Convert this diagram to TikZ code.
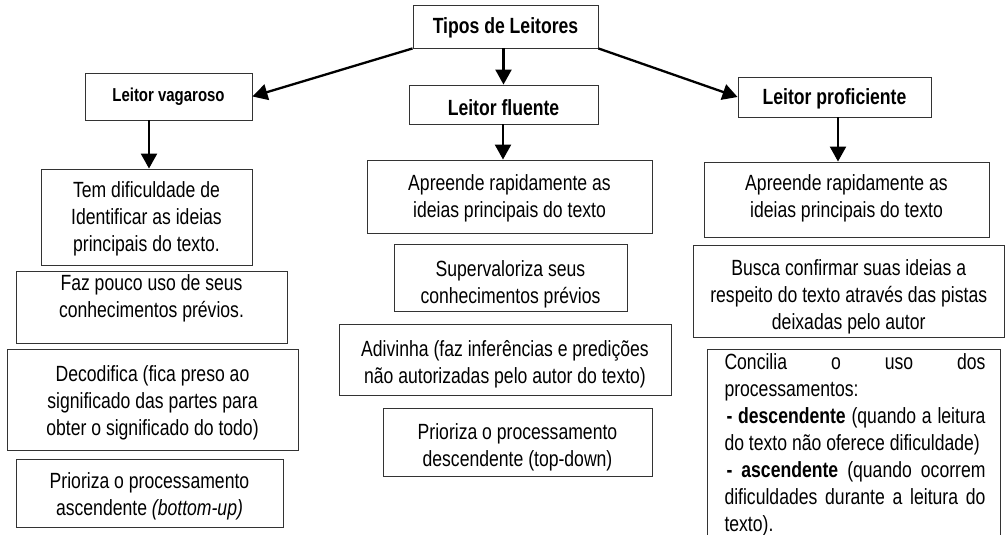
\documentclass[tikz,border=0pt]{standalone}
\usepackage{fontspec}
\setmainfont{Liberation Sans}[FakeStretch=0.80]
\usetikzlibrary{arrows.meta}
\tikzset{
  box/.style={draw=black!80, line width=0.9pt, inner sep=0pt},
  head/.style={inner sep=0pt, font=\fontsize{22}{26}\selectfont\bfseries},
  headsmall/.style={inner sep=0pt, font=\fontsize{18.7}{22}\selectfont\bfseries},
  body/.style={align=center, inner sep=0pt, font=\fontsize{22}{27.2}\selectfont},
  arr/.style={line width=2.3pt, -{Triangle[length=15pt,width=16pt]}},
}
\newcommand\cliptext[5]{%
  \begin{scope}
    \clip ([shift={(1pt,2.5pt)}]#1.south west) rectangle ([shift={(-1pt,-1pt)}]#1.north east);
    \node[body] (#2) at (#3,#4) {#5};
  \end{scope}}
\begin{document}
\begin{tikzpicture}[x=1pt,y=-1pt]
\clip (0,0) rectangle (1005,535);
\fill[white] (0,0) rectangle (1005,535);

% header boxes
\node[box, minimum width=185pt, minimum height=43pt] (T) at (505.5,26.5) {};
\node[head] (Tt) at (505.5,27.5) {Tipos de Leitores};
\node[box, minimum width=167pt, minimum height=47pt] (V) at (168.5,96.5) {};
\node[headsmall] (Vt) at (168.5,96.5) {Leitor vagaroso};
\node[box, minimum width=189pt, minimum height=39pt] (F) at (503.5,104.5) {};
\node[head] (Ft) at (503.5,107.5) {Leitor fluente};
\node[box, minimum width=193pt, minimum height=40pt] (P) at (834.5,97) {};
\node[head] (Pt) at (834.5,98.5) {Leitor proficiente};

% left column
\node[box, minimum width=211pt, minimum height=96pt] (L1) at (146.5,217) {};
\cliptext{L1}{L1t}{146.5}{219}{Tem dificuldade de\\Identificar as ideias\\principais do texto.}
\node[box, minimum width=271pt, minimum height=72pt] (L2) at (151.5,307) {};
\cliptext{L2}{L2t}{151.5}{298}{Faz pouco uso de seus\\conhecimentos prévios.}
\node[box, minimum width=291pt, minimum height=101pt] (L3) at (152.5,399.5) {};
\cliptext{L3}{L3t}{152.5}{403}{Decodifica (fica preso ao\\significado das partes para\\obter o significado do todo)}
\node[box, minimum width=267pt, minimum height=68pt] (L4) at (149.5,493) {};
\cliptext{L4}{L4t}{149.5}{496.5}{Prioriza o processamento\\ascendente \textit{(bottom-up)}}

% middle column
\node[box, minimum width=285pt, minimum height=73pt] (M1) at (509.5,196.5) {};
\cliptext{M1}{M1t}{509.5}{198}{Apreende rapidamente as\\ideias principais do texto}
\node[box, minimum width=233pt, minimum height=67pt] (M2) at (510.5,277.5) {};
\cliptext{M2}{M2t}{510.5}{284}{Supervaloriza seus\\conhecimentos prévios}
\node[box, minimum width=332pt, minimum height=71pt] (M3) at (505,359.5) {};
\cliptext{M3}{M3t}{505}{364.5}{Adivinha (faz inferências e predições\\não autorizadas pelo autor do texto)}
\node[box, minimum width=269pt, minimum height=68pt] (M4) at (517.5,442) {};
\cliptext{M4}{M4t}{517.5}{447.5}{Prioriza o processamento\\descendente (top-down)}

% right column
\node[box, minimum width=285pt, minimum height=75pt] (R1) at (846.5,199.5) {};
\cliptext{R1}{R1t}{846.5}{198.5}{Apreende rapidamente as\\ideias principais do texto}
\node[box, minimum width=311.5pt, minimum height=92pt] (R2) at (848.75,291) {};
\cliptext{R2}{R2t}{848.75}{297}{Busca confirmar suas ideias a\\respeito do texto através das pistas\\deixadas pelo autor}
\node[box, minimum width=293pt, minimum height=211pt] (R3) at (853.5,454.5) {};
\node[anchor=center, text width=261pt, align=justify, inner sep=0pt,
      font=\fontsize{22}{27}\selectfont] (R3t) at (855,445)
  {Concilia o uso dos\linebreak processamentos:\\
   \hspace*{2pt}\textbf{- descendente} (quando a leitura\linebreak do texto não oferece dificuldade)\\
   \hspace*{2pt}\textbf{- ascendente} (quando ocorrem\linebreak dificuldades durante a leitura do\linebreak texto).};

% arrows
\draw[arr] (T.south west) -- (V.east);
\draw[arr] (F.north |- T.south) -- (F.north);
\draw[arr] (T.south east) -- (P.west);
\draw[arr] ([xshift=2.5pt]L1.north |- V.south) -- ([xshift=2.5pt]L1.north);
\draw[arr] ([xshift=-0.5pt]F.south) -- ([xshift=-0.5pt]F.south |- M1.north);
\draw[arr] ([xshift=3.5pt]P.south) -- ([xshift=3.5pt]P.south |- R1.north);
\end{tikzpicture}
\end{document}
